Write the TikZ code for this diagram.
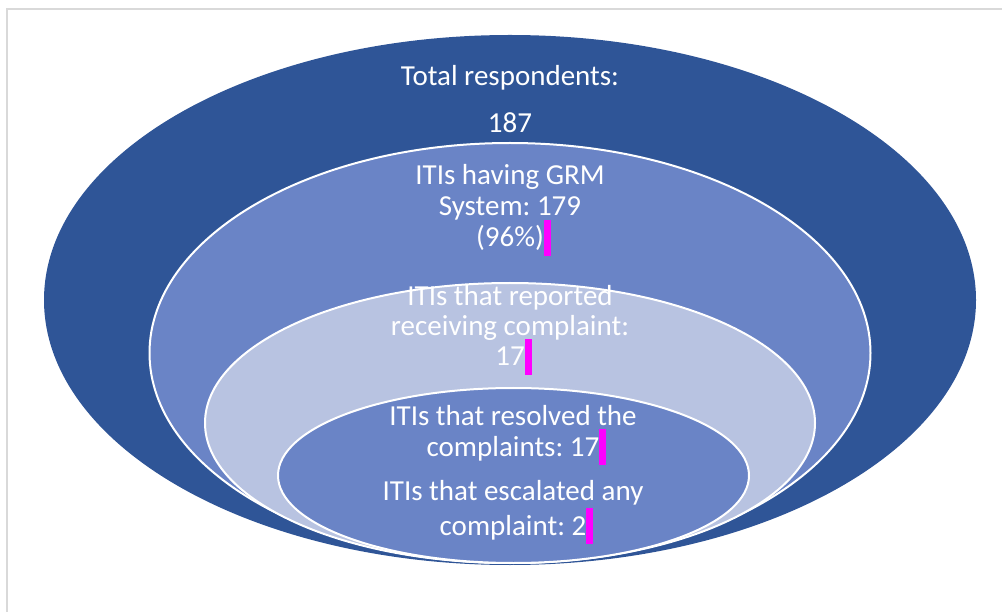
\documentclass[tikz,border=0pt]{standalone}
\usepackage{fontspec}
\setmainfont{Carlito}
\usetikzlibrary{shapes.geometric,calc}
\definecolor{ringdark}{HTML}{2F5597}
\definecolor{ringmid}{HTML}{6A84C6}
\definecolor{ringlight}{HTML}{B8C3E1}
\definecolor{framegray}{HTML}{D9D9D9}
\definecolor{cursormag}{HTML}{FF00FF}
\tikzset{
  ring/.style={ellipse, inner sep=0pt, outer sep=0pt},
  ringline/.style={draw=white, line width=2pt},
  lbl/.style={anchor=base, inner sep=0pt, outer sep=0pt, text=white, font=\fontsize{29pt}{31pt}\selectfont},
  cursorbar/.style={fill=cursormag}
}
\frenchspacing
\begin{document}
\begin{tikzpicture}[x=1pt,y=-1pt]
\useasboundingbox (0,0) rectangle (1002,612);
\draw[framegray, line width=1.2pt] (7,612) -- (7,9) -- (1002,9);
% rings
\node[ring, fill=ringdark, minimum width=932pt, minimum height=530pt] (outer) at (510,300) {};
\node[ring, ringline, fill=ringmid, minimum width=721pt, minimum height=420pt] (grm) at (510,353) {};
\node[ring, ringline, fill=ringlight, minimum width=610pt, minimum height=280pt] (recv) at (510,423) {};
\node[ring, ringline, fill=ringmid, minimum width=471pt, minimum height=175pt] (inner) at (513.5,475.5) {};
% labels
\node[lbl] (t1) at (510,86) {Total respondents:};
\node[lbl] (t2) at (510,133) {187};
\node[lbl] (g1) at (510,185) {ITIs having GRM};
\node[lbl] (g2) at (510,216) {System: 179};
\node[lbl] (g3) at (510,247) {(96\%)};
\node[lbl] (r1) at (510,306) {ITIs that reported};
\node[lbl] (r2) at (510,336) {receiving complaint:};
\node[lbl] (r3) at (510,366) {17};
\node[lbl] (s1) at (513,425) {ITIs that resolved the};
\node[lbl] (s2) at (513,456) {complaints: 17};
\node[lbl] (e1) at (513,500) {ITIs that escalated any};
\node[lbl] (e2) at (513,535) {complaint: 2};
% cursor marks
\foreach \n in {g3,r3,s2,e2}{
  \fill[cursorbar] ($(\n.base east)+(0,9)$) rectangle ($(\n.base east)+(7,-27)$);
}
\end{tikzpicture}
\end{document}
